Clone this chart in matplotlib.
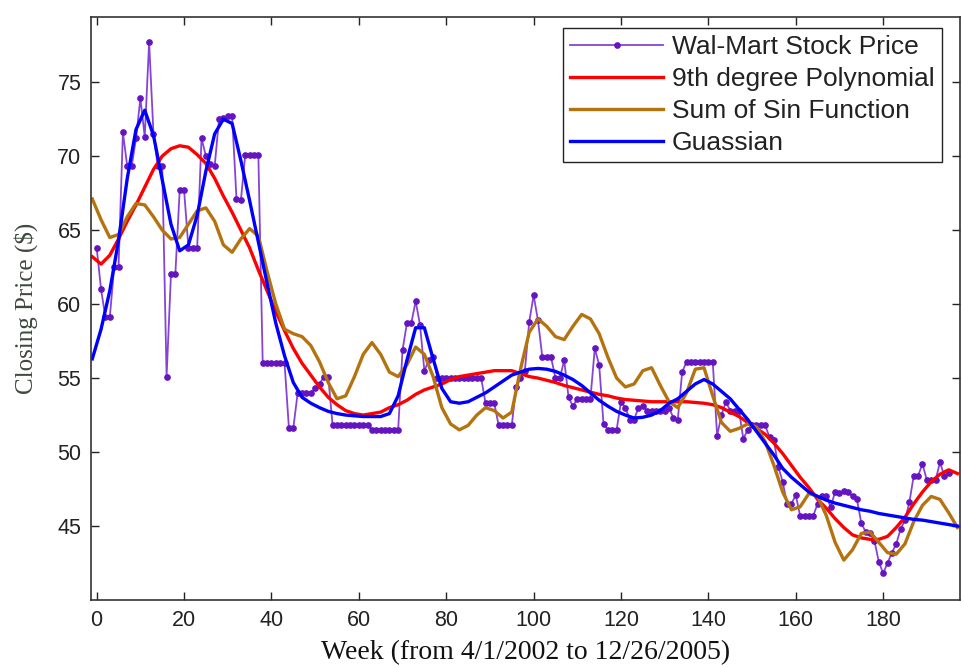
import matplotlib.pyplot as plt
import numpy as np

# weekly closing prices, week 0 .. 195
price = [
    63.8, 61.0, 59.1, 59.1, 62.5, 62.5, 71.6, 69.3, 69.3, 71.2,
    73.9, 71.3, 77.7, 71.5, 69.3, 69.3, 55.1, 62.0, 62.0, 67.7,
    67.7, 63.8, 63.8, 63.8, 71.2, 70.0, 69.5, 69.3, 72.5, 72.6,
    72.7, 72.7, 67.1, 67.0, 70.1, 70.1, 70.1, 70.1, 56.0, 56.0,
    56.0, 56.0, 56.0, 56.0, 51.6, 51.6, 54.0, 54.0, 54.0, 54.0,
    54.3, 54.6, 55.1, 55.1, 51.8, 51.8, 51.8, 51.8, 51.8, 51.8,
    51.8, 51.8, 51.8, 51.5, 51.5, 51.5, 51.5, 51.5, 51.5, 51.5,
    56.9, 58.7, 58.7, 60.2, 58.6, 55.5, 56.2, 56.4, 55.0, 55.0,
    55.0, 55.0, 55.0, 55.0, 55.0, 55.0, 55.0, 55.0, 55.0, 53.3,
    53.3, 53.3, 51.8, 51.8, 51.8, 51.8, 54.4, 55.0, 55.5, 58.8,
    60.6, 58.9, 56.4, 56.4, 56.4, 55.0, 55.0, 56.2, 53.7, 53.1,
    53.6, 53.6, 53.6, 53.6, 57.0, 55.9, 51.9, 51.5, 51.5, 51.5,
    53.4, 53.0, 52.2, 52.2, 53.0, 53.1, 52.8, 52.8, 52.8, 52.8,
    52.8, 53.0, 52.3, 52.2, 55.4, 56.1, 56.1, 56.1, 56.1, 56.1,
    56.1, 56.1, 51.1, 52.5, 53.4, 52.8, 52.8, 52.8, 50.9, 51.5,
    51.8, 51.8, 51.8, 51.8, 51.0, 50.8, 49.0, 48.0, 46.5, 46.5,
    47.1, 45.7, 45.7, 45.7, 45.7, 46.5, 47.0, 47.0, 46.3, 47.3,
    47.2, 47.4, 47.3, 47.0, 46.8, 45.2, 44.6, 44.5, 44.0, 42.6,
    41.8, 42.5, 43.2, 43.8, 44.8, 45.4, 46.6, 48.4, 48.4, 49.2,
    48.1, 48.1, 48.1, 49.3, 48.4, 48.6,
]
weeks = np.arange(len(price))

# fitted curves read every 2 weeks, from week -1 to 197
fit_weeks = np.arange(-1, 198, 2)
poly9 = [
    63.2, 62.7, 63.3, 64.4, 65.6, 66.7, 67.9, 69.1, 70.0, 70.5,
    70.7, 70.6, 70.1, 69.5, 68.5, 67.3, 66.2, 65.0, 63.8, 62.3,
    60.9, 59.5, 58.2, 57.0, 56.0, 55.2, 54.4, 53.7, 53.2, 52.8,
    52.6, 52.5, 52.6, 52.7, 53.0, 53.2, 53.5, 53.9, 54.2, 54.4,
    54.6, 54.9, 55.1, 55.2, 55.3, 55.4, 55.5, 55.5, 55.5, 55.3,
    55.1, 55.0, 54.85, 54.7, 54.5, 54.35, 54.2, 54.05, 53.9, 53.8,
    53.65, 53.55, 53.5, 53.45, 53.4, 53.4, 53.4, 53.4, 53.4, 53.35,
    53.3, 53.2, 53.0, 52.7, 52.4, 52.0, 51.6, 51.2, 50.6, 49.9,
    49.1, 48.3, 47.6, 46.8, 46.2, 45.5, 44.9, 44.4, 44.2, 44.1,
    44.1, 44.3, 44.9, 45.6, 46.5, 47.3, 48.0, 48.5, 48.8, 48.55,
]
sum_sin = [
    67.1, 65.7, 64.5, 64.7, 65.9, 66.8, 66.7, 65.9, 65.0, 64.4,
    64.5, 65.4, 66.3, 66.5, 65.6, 64.0, 63.5, 64.4, 65.1, 64.6,
    62.2, 60.0, 58.3, 58.0, 57.8, 57.2, 56.1, 54.7, 53.6, 53.8,
    55.1, 56.6, 57.4, 56.6, 55.4, 55.1, 55.9, 57.1, 56.6, 55.1,
    53.0, 51.9, 51.5, 51.8, 52.5, 53.0, 52.8, 52.3, 52.7, 55.6,
    58.1, 59.0, 58.5, 57.8, 57.6, 58.5, 59.3, 59.0, 58.0, 56.4,
    55.0, 54.4, 54.6, 55.5, 55.7, 54.5, 53.4, 53.0, 54.0, 55.6,
    55.7, 53.8, 52.0, 51.4, 51.6, 51.9, 51.7, 50.7, 49.1, 47.3,
    46.1, 46.3, 47.2, 47.0, 45.7, 43.9, 42.7, 43.4, 44.5, 44.6,
    43.9, 43.2, 43.1, 43.8, 45.3, 46.4, 47.0, 46.8, 45.9, 44.9,
]
gauss = [
    56.3, 58.3, 60.9, 64.3, 68.5, 71.8, 73.1, 71.4, 68.4, 65.4,
    63.6, 64.0, 66.0, 69.0, 71.5, 72.5, 72.2, 69.7, 67.0, 64.2,
    61.4, 58.7, 56.5, 54.7, 53.7, 53.3, 53.0, 52.75, 52.6, 52.5,
    52.45, 52.4, 52.4, 52.4, 52.6, 53.8, 56.2, 58.4, 58.4, 56.3,
    54.3, 53.4, 53.3, 53.4, 53.7, 54.0, 54.4, 54.8, 55.2, 55.4,
    55.6, 55.65, 55.6, 55.45, 55.2, 54.9, 54.5, 54.0, 53.5, 53.1,
    52.75, 52.5, 52.3, 52.35, 52.5, 52.8, 53.3, 53.6, 54.1, 54.6,
    54.9, 54.6, 54.1, 53.6, 52.9, 52.2, 51.4, 50.6, 49.8, 48.9,
    48.3, 47.8, 47.3, 47.0, 46.75, 46.55, 46.4, 46.25, 46.1, 46.0,
    45.85, 45.75, 45.65, 45.55, 45.45, 45.4, 45.3, 45.2, 45.1, 45.0,
]

fig = plt.figure(figsize=(9.64, 6.67), dpi=100)
ax = fig.add_axes([0.0944, 0.1004, 0.9015, 0.8741])

ax.plot(weeks, price, color='#8644d6', lw=1.3, marker='o', markersize=3.8,
        markerfacecolor='#6414c0', markeredgecolor='#6414c0',
        label='Wal-Mart Stock Price')
ax.plot(fit_weeks, poly9, color='#ff0000', lw=2.4, label='9th degree Polynomial')
ax.plot(fit_weeks, sum_sin, color='#b5730f', lw=2.4, label='Sum of Sin Function')
ax.plot(fit_weeks, gauss, color='#0000ff', lw=2.4, label='Guassian')

ax.set_xlim(-1.3, 197.6)
ax.set_ylim(40, 79.4)
ax.set_xticks(np.arange(0, 181, 20))
ax.set_yticks(np.arange(45, 76, 5))
ax.tick_params(direction='in', top=True, right=True, length=6, width=1,
               labelsize=15.5, colors='#222222', pad=7)
for lbl in ax.get_xticklabels() + ax.get_yticklabels():
    lbl.set_family('Liberation Sans')
for s in ax.spines.values():
    s.set_linewidth(1.2)
    s.set_color('#333333')

ax.set_xlabel('Week (from 4/1/2002 to 12/26/2005)', family='Liberation Serif',
              fontsize=20, color='#111111', labelpad=7)
ax.set_ylabel('Closing Price ($)', family='Liberation Serif', fontsize=18,
              color='#3c4a3c', labelpad=14)

leg = ax.legend(loc='upper right', bbox_to_anchor=(0.979, 0.981), borderaxespad=0,
                fancybox=False, edgecolor='#222222', framealpha=1,
                handlelength=3.5, handletextpad=0.35,
                prop={'family': 'Liberation Sans', 'size': 19},
                labelspacing=0.3, borderpad=0.27)
leg.get_frame().set_linewidth(1.0)
for t in leg.get_texts():
    t.set_color('#222222')

fig.savefig('out.png', dpi=100)
